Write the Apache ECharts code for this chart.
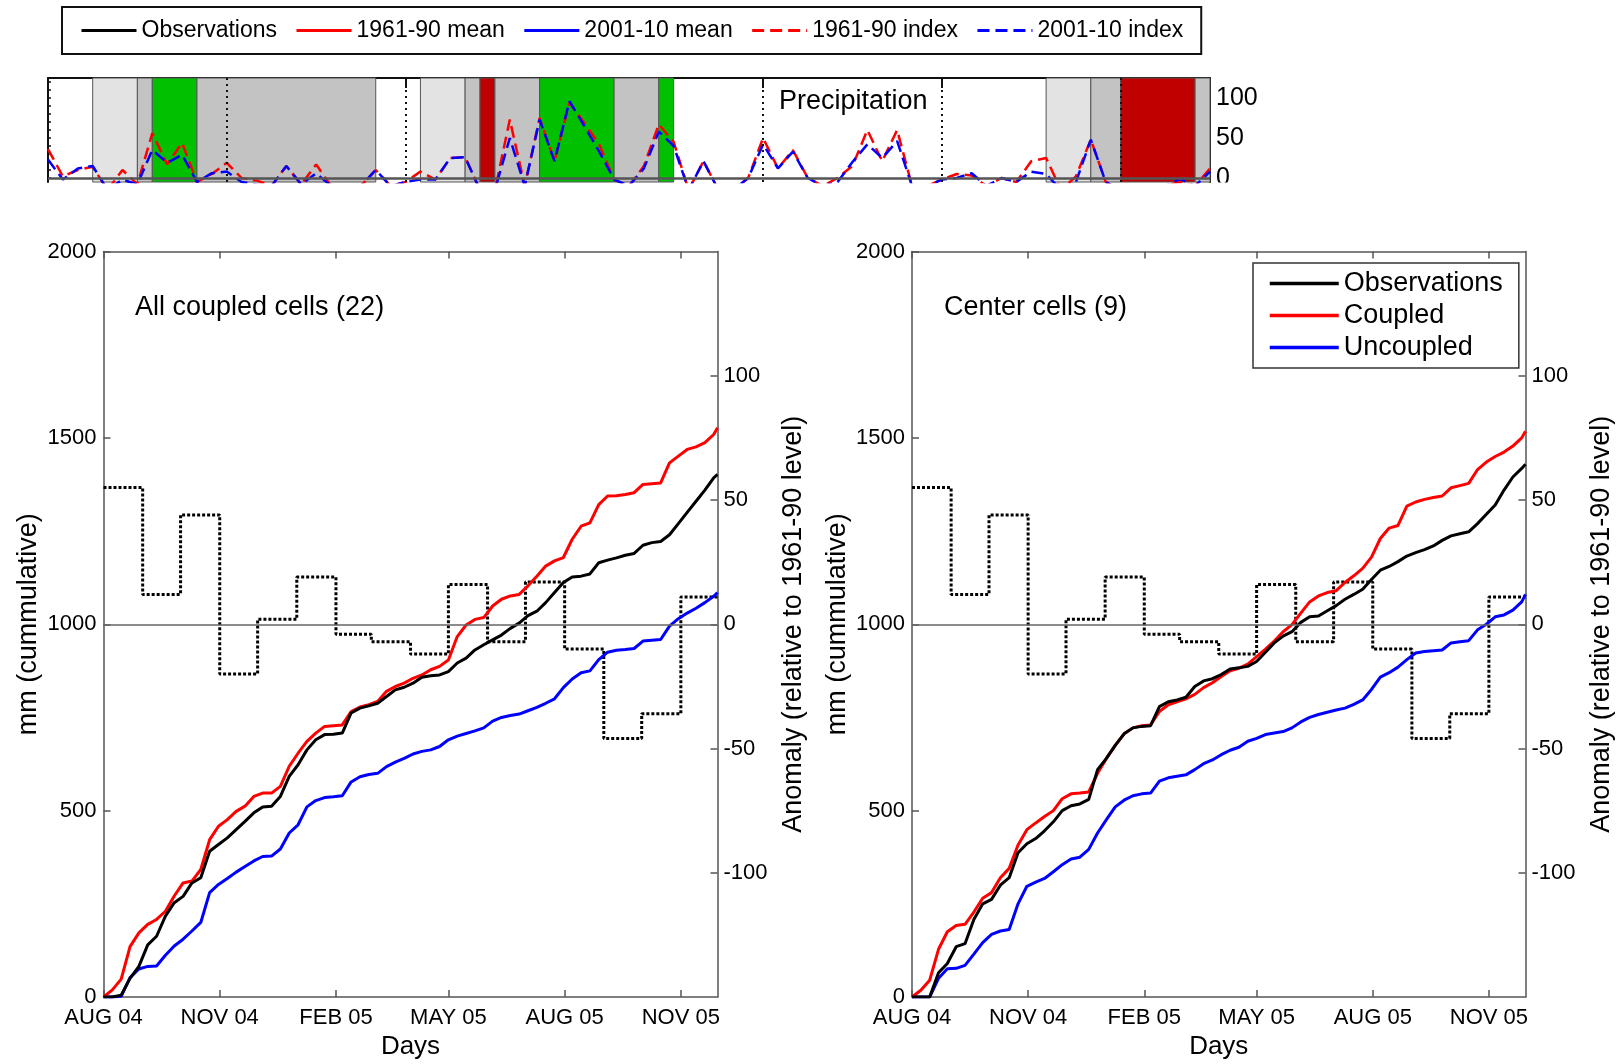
<!DOCTYPE html>
<html><head><meta charset="utf-8">
<script src="https://cdn.jsdelivr.net/npm/echarts@6/dist/echarts.min.js"></script>
<style>html,body{margin:0;padding:0;background:#fff}#c{width:1623px;height:1064px}</style>
</head><body><div id="c"></div>
<script>
// ---------- DATA ----------
// day offsets from 1 Aug 2004
const days = [0,7,14,21,28,35,42,49,56,63,70,77,84,91,98,105,112,119,126,133,140,147,154,161,168,175,182,189,196,203,210,217,224,231,238,245,252,259,266,273,280,287,294,301,308,315,322,329,336,343,350,357,364,371,378,385,392,399,406,413,420,427,434,441,448,455,462,469,476,483,486];
const monthTicks = [0,92,184,273,365,457];
const tickLabels = ['AUG 04','NOV 04','FEB 05','MAY 05','AUG 05','NOV 05'];

// All coupled cells (22)
const obsAll = [0,0,5,50,82,140,163,217,253,270,306,320,391,409,427,449,471,494,510,512,538,592,623,663,690,704,705,708,762,775,781,788,806,824,831,842,858,862,864,873,896,909,931,945,958,971,989,1003,1023,1035,1058,1085,1112,1127,1129,1135,1165,1172,1178,1185,1190,1212,1219,1222,1240,1270,1300,1330,1360,1393,1402];
const coupledAll = [0,19,48,135,172,195,208,230,271,306,311,342,422,458,476,498,512,538,547,547,565,619,654,686,708,726,728,730,766,778,784,793,820,833,842,855,864,878,887,904,967,998,1013,1018,1049,1067,1076,1080,1103,1129,1156,1170,1179,1228,1263,1272,1321,1344,1345,1348,1353,1375,1377,1379,1433,1451,1469,1476,1487,1509,1527];
const uncoupledAll = [0,0,2,52,75,82,83,112,137,155,177,200,280,302,318,335,350,365,377,378,397,440,462,510,527,535,537,540,577,591,597,600,618,630,640,652,659,663,672,690,700,707,714,722,740,750,755,759,768,777,788,800,830,853,870,875,905,925,930,932,935,955,957,959,995,1015,1030,1043,1058,1075,1085];

// Center cells (9)
const obsCenter = [0,0,0,65,90,135,143,208,250,262,300,320,387,411,425,446,470,500,513,518,530,610,640,675,706,722,726,728,779,792,797,804,833,848,854,865,880,883,887,900,925,950,968,980,1005,1020,1022,1036,1050,1067,1080,1094,1120,1145,1155,1168,1183,1192,1200,1210,1225,1237,1243,1248,1270,1295,1320,1360,1395,1418,1429];
const coupledCenter = [0,18,45,128,175,192,195,228,265,280,320,345,408,449,467,484,500,532,545,547,550,600,640,675,706,722,728,730,766,784,792,800,812,830,843,860,875,882,893,913,933,955,980,999,1030,1060,1076,1085,1090,1112,1130,1150,1180,1230,1258,1265,1317,1328,1335,1340,1344,1366,1372,1378,1415,1435,1450,1462,1478,1500,1518];
const uncoupledCenter = [0,0,0,50,76,77,85,115,146,168,177,181,250,297,308,318,336,355,370,375,396,440,476,510,528,540,545,547,579,588,592,596,610,626,636,650,662,670,686,694,704,708,712,722,738,750,758,764,770,775,785,797,825,858,870,885,905,923,927,929,931,950,953,956,985,1000,1020,1025,1038,1060,1080];

// monthly anomaly (relative to 1961-90 level)
const monthStarts = [0,31,61,92,122,153,184,212,243,273,304,334,365,396,426,457,486];
const anomaly = [55,12,44,-20,2,19,-4,-7,-12,16,-7,17,-10,-46,-36,11];
const anomTicks = [-100,-50,0,50,100];

// Precipitation strip (index per period)
const index1961 = [36,2,10,14,-15,10,-8,56,17,44,-5,5,19,0,-3,-10,15,-8,17,-10,-10,-10,10,-10,-5,8,-2,25,26,-15,-15,73,-10,75,21,94,69,42,-2,-10,15,67,45,-15,21,-15,-15,0,50,12,35,0,-10,0,15,60,21,60,-10,-10,-2,5,3,-10,0,-5,21,25,-15,2,48,-5,-15,-10,-10,-10,-5,-10,12];
const index2001 = [23,-2,12,15,-15,-2,-8,35,19,29,-5,6,8,-5,-8,-10,15,-8,6,-10,-10,-10,10,-10,-5,-2,-2,25,26,-15,-15,50,-10,73,21,96,65,33,-2,-10,12,58,40,-15,21,-15,-15,0,42,12,33,0,-10,-5,20,42,25,46,-10,-10,-2,0,6,-10,0,-5,8,5,-15,-5,48,-5,-15,-10,-10,-10,-1,-10,8];
const bandStart = [3,6,7,10,25,28,29,30,33,38,41,67,70,72,77];
const bandEnd   = [6,7,10,22,28,29,30,33,38,41,42,70,72,77,78];
const bandType  = ['light','gray','green','gray','light','gray','red','gray','green','gray','green','light','gray','red','gray'];
const stripDotted = [12,24,48,60,72];
const stripTicks = [0,50,100];

// ---------- CHART ----------
const FONT = '"Liberation Sans", Arial, Helvetica, sans-serif';
const bandColor = {light:'#e3e3e3', gray:'#c3c3c3', green:'#00c000', red:'#c00000'};
const frame = {show:true, onZero:false, lineStyle:{color:'#555', width:1.5}};
const pair = (arr) => days.map((d,i)=>[d, arr[i]]);

function panelAxes(g) {
  const xs = [
    {gridIndex:g, type:'value', min:0, max:486, position:'bottom',
     axisLine:frame, splitLine:{show:false},
     axisTick:{inside:true, length:7, customValues:monthTicks, lineStyle:{color:'#555', width:1.5}},
     axisLabel:{customValues:monthTicks, formatter:(v)=>tickLabels[monthTicks.indexOf(v)] || '', fontSize:22, color:'#000', margin:10, fontFamily:FONT},
     name:'Days', nameLocation:'middle', nameGap:36, nameTextStyle:{fontSize:26, color:'#000', fontFamily:FONT}},
    {gridIndex:g, type:'value', min:0, max:486, position:'top',
     axisLine:frame, splitLine:{show:false},
     axisTick:{inside:true, length:7, customValues:monthTicks, lineStyle:{color:'#555', width:1.5}},
     axisLabel:{show:false}}
  ];
  const ys = [
    {gridIndex:g, type:'value', min:0, max:2000, interval:500, position:'left',
     axisLine:frame, splitLine:{show:false},
     axisTick:{inside:true, length:7, lineStyle:{color:'#555', width:1.5}},
     axisLabel:{fontSize:22, color:'#000', margin:7, fontFamily:FONT, formatter:(v)=>String(v)},
     name:'mm (cummulative)', nameLocation:'middle', nameRotate:90, nameGap:61,
     nameTextStyle:{fontSize:27, color:'#000', fontFamily:FONT}},
    {gridIndex:g, type:'value', min:-150, max:150, position:'right',
     axisLine:frame, splitLine:{show:false},
     axisTick:{inside:true, length:7, customValues:anomTicks, lineStyle:{color:'#555', width:1.5}},
     axisLabel:{customValues:anomTicks, fontSize:22, color:'#000', margin:6, fontFamily:FONT, formatter:(v)=>String(v)},
     name:'Anomaly (relative to 1961-90 level)', nameLocation:'middle', nameRotate:90, nameGap:63,
     nameTextStyle:{fontSize:27, color:'#000', fontFamily:FONT}}
  ];
  return {xs, ys};
}
const pL = panelAxes(1), pR = panelAxes(2);

function panelSeries(xi, yi, yiA, obs, cpl, unc) {
  return [
    {type:'line', name:'anomaly', xAxisIndex:xi, yAxisIndex:yiA, step:'end', symbol:'none', z:2,
     data: monthStarts.map((d,i)=>[d, anomaly[Math.min(i, anomaly.length-1)]]),
     lineStyle:{color:'#000', width:3, type:[3,2]},
     markLine:{symbol:'none', silent:true, label:{show:false}, animation:false,
       lineStyle:{color:'#666', width:1.5, type:'solid'}, data:[{yAxis:0}]}},
    {type:'line', name:'Uncoupled', xAxisIndex:xi, yAxisIndex:yi, symbol:'none', z:3,
     data:pair(unc), lineStyle:{color:'#0000ff', width:3}, itemStyle:{color:'#0000ff'}},
    {type:'line', name:'Coupled', xAxisIndex:xi, yAxisIndex:yi, symbol:'none', z:3,
     data:pair(cpl), lineStyle:{color:'#ff0000', width:3}, itemStyle:{color:'#ff0000'}},
    {type:'line', name:'Observations', xAxisIndex:xi, yAxisIndex:yi, symbol:'none', z:4,
     data:pair(obs), lineStyle:{color:'#000', width:3}, itemStyle:{color:'#000'}}
  ];
}

const option = {
  animation:false,
  backgroundColor:'#fff',
  textStyle:{fontFamily:FONT},
  title:[
    {text:'Precipitation', left:779, top:88, padding:0, textStyle:{fontSize:27, fontWeight:'normal', color:'#000', fontFamily:FONT}},
    {text:'All coupled cells (22)', left:135, top:294, padding:0, textStyle:{fontSize:27, fontWeight:'normal', color:'#000', fontFamily:FONT}},
    {text:'Center cells (9)', left:944, top:294, padding:0, textStyle:{fontSize:27, fontWeight:'normal', color:'#000', fontFamily:FONT}}
  ],
  legend:[
    {data:['Observations','1961-90 mean','2001-10 mean','1961-90 index','2001-10 index'],
     left:62, top:7, padding:[12,18], itemGap:18, itemWidth:55, itemHeight:14,
     borderColor:'#111', borderWidth:2, selectedMode:false,
     itemStyle:{opacity:0}, lineStyle:{width:3},
     textStyle:{fontSize:23, color:'#000', fontFamily:FONT}},
    {data:['Observations','Coupled','Uncoupled'], orient:'vertical',
     left:1253, top:263, padding:[7,16,7,15], itemGap:5, itemWidth:69, itemHeight:14,
     borderColor:'#333', borderWidth:1.5, selectedMode:false, backgroundColor:'#fff',
     itemStyle:{opacity:0}, lineStyle:{width:3.5},
     textStyle:{fontSize:27, color:'#000', fontFamily:FONT}}
  ],
  grid:[
    {left:48, top:78, width:1162, height:104, outerBoundsMode:'none'},
    {left:103.5, top:251.5, width:614, height:745.5, outerBoundsMode:'none'},
    {left:912, top:251.5, width:613.5, height:745.5, outerBoundsMode:'none'}
  ],
  xAxis:[
    {gridIndex:0, type:'value', min:0, max:78, show:false, splitLine:{show:false}},
    {gridIndex:0, type:'value', min:0, max:78, position:'top',
     axisLine:{show:true, onZero:false, lineStyle:{color:'#111', width:2}}, splitLine:{show:false},
     axisTick:{inside:true, length:10, customValues:stripDotted, lineStyle:{color:'#111', width:2}},
     axisLabel:{show:false}},
    ...pL.xs, ...pR.xs
  ],
  yAxis:[
    {gridIndex:0, type:'value', min:-5, max:125, position:'left',
     axisLine:{show:true, onZero:false, lineStyle:{color:'#111', width:2}}, splitLine:{show:false},
     axisTick:{inside:true, length:3, customValues:[0,10,20,30,40,50,60,70,80,90,100,110,120], lineStyle:{color:'#111', width:1.5}},
     axisLabel:{show:false}},
    {gridIndex:0, type:'value', min:-5, max:125, position:'right',
     axisLine:{show:true, onZero:false, lineStyle:{color:'#111', width:2}}, splitLine:{show:false},
     axisTick:{inside:true, length:7, customValues:stripTicks, lineStyle:{color:'#333', width:1.5}},
     axisLabel:{customValues:stripTicks, fontSize:25, color:'#000', margin:6, fontFamily:FONT}},
    ...pL.ys, ...pR.ys
  ],
  graphic:[
    {type:'rect', shape:{x:1212, y:182.5, width:90, height:20}, style:{fill:'#fff'}, z:100, silent:true}
  ],
  series:[
    {type:'line', name:'bands', xAxisIndex:0, yAxisIndex:0, data:[], z:1, silent:true,
     markArea:{silent:true, animation:false,
       data: bandStart.map((s,i)=>[
         {xAxis:s, itemStyle:{color:bandColor[bandType[i]], borderColor:'#555', borderWidth:1}},
         {xAxis:bandEnd[i]}])}},
    {type:'line', name:'dotted', xAxisIndex:0, yAxisIndex:0, data:[], z:2, silent:true,
     markLine:{symbol:'none', silent:true, label:{show:false}, animation:false,
       lineStyle:{color:'#111', width:2, type:[2,4]},
       data: stripDotted.map(x=>({xAxis:x}))}},
    {type:'line', name:'Observations', xAxisIndex:0, yAxisIndex:0, data:[], symbol:'none', lineStyle:{color:'#000', width:2.5}, itemStyle:{color:'#000'}},
    {type:'line', name:'1961-90 mean', xAxisIndex:0, yAxisIndex:0, data:[], symbol:'none', lineStyle:{color:'#ff0000', width:2.5}, itemStyle:{color:'#ff0000'}},
    {type:'line', name:'2001-10 mean', xAxisIndex:0, yAxisIndex:0, data:[], symbol:'none', lineStyle:{color:'#0000ff', width:2.5}, itemStyle:{color:'#0000ff'}},
    {type:'line', name:'1961-90 index', xAxisIndex:0, yAxisIndex:0, symbol:'none', z:3,
     data:index1961.map((v,i)=>[i,v]), lineStyle:{color:'#ff0000', width:2.5, type:[12,6]}, itemStyle:{color:'#ff0000'}},
    {type:'line', name:'2001-10 index', xAxisIndex:0, yAxisIndex:0, symbol:'none', z:4,
     data:index2001.map((v,i)=>[i,v]), lineStyle:{color:'#0000ff', width:2.5, type:[12,6]}, itemStyle:{color:'#0000ff'},
     markLine:{symbol:'none', silent:true, label:{show:false}, animation:false,
       lineStyle:{color:'#555', width:2.5, type:'solid'}, data:[{yAxis:0}]}},
    ...panelSeries(2, 2, 3, obsAll, coupledAll, uncoupledAll),
    ...panelSeries(4, 4, 5, obsCenter, coupledCenter, uncoupledCenter)
  ]
};
const chart = echarts.init(document.getElementById('c'));
chart.setOption(option);
</script>
</body></html>
